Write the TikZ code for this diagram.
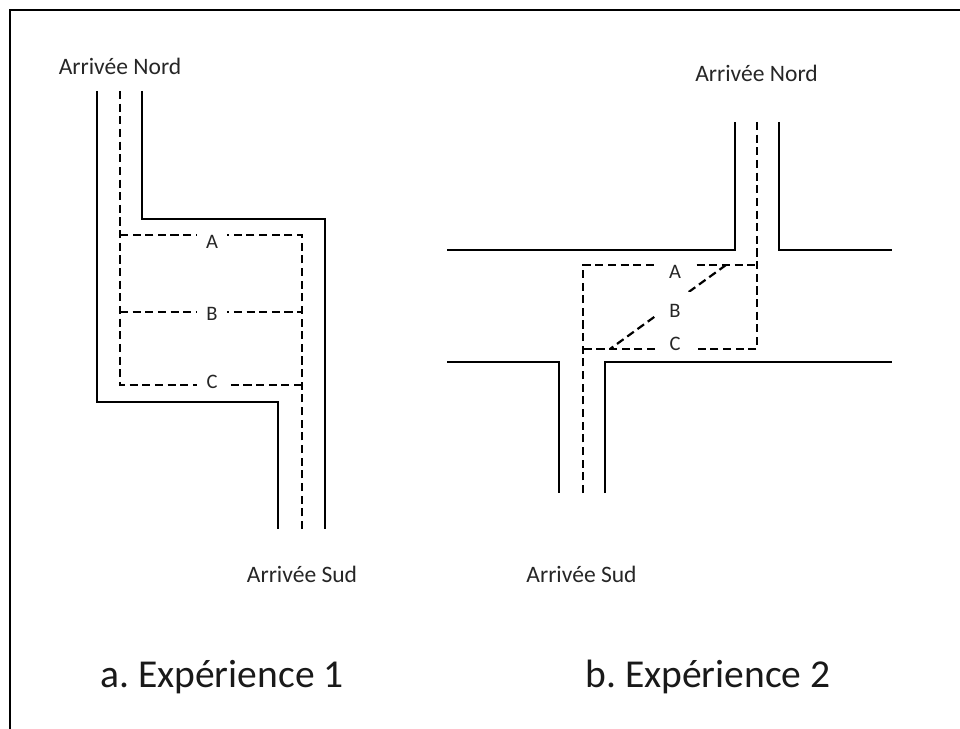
\documentclass[tikz,border=0pt]{standalone}
\usepackage{fontspec}
\setmainfont{Carlito}
\tikzset{
  road/.style={draw=black,line width=1.1pt,line join=miter},
  lane/.style={draw=black,line width=1.25pt,dash pattern=on 4.6pt off 2.6pt},
  arrival/.style={text=black!85,font=\fontsize{13.4}{15}\selectfont,inner sep=0pt},
  zone/.style={fill=white,text=black!85,font=\fontsize{11.7}{13}\selectfont,inner sep=0pt,minimum width=17pt,minimum height=13pt},
  zonewide/.style={zone,minimum width=21pt},
  caption/.style={anchor=base,text=black!90,font=\frenchspacing\fontsize{22.5}{26}\selectfont,inner sep=0pt}
}
\begin{document}
\begin{tikzpicture}[x=.02cm,y=-.02cm]
  \useasboundingbox (0,0) rectangle (960,729);
  % Frame
  \draw[draw=black,line width=1.1pt] (960,10) -- (10,10) -- (10,729);

  \begin{scope}
    % Walls
    \draw[road] (97,91) -- (97,402) -- (278,402) -- (278,529);
    \draw[road] (142,91) -- (142,219) -- (325,219) -- (325,529);
    % Lanes
    \draw[lane] (120,91) -- (120,385) -- (302,385);
    \draw[lane] (302,529) -- (302,235) -- (120,235);
    \draw[lane] (120,312) -- (302,312);
    % Zones
    \node[zone] (za) at (212,242) {A};
    \node[zone] (zb) at (212,314) {B};
    \node[zone] (zc) at (212,382) {C};
    \node[arrival] (na) at (120,66) {Arrivée Nord};
    \node[arrival] (sa) at (302,574) {Arrivée Sud};
    \node[caption] (capa) at (222,687) {a. Expérience 1};
  \end{scope}

  \begin{scope}
    % Walls
    \draw[road] (447,250) -- (735,250) -- (735,122);
    \draw[road] (779,122) -- (779,250) -- (892,250);
    \draw[road] (447,362) -- (559,362) -- (559,493);
    \draw[road] (605,493) -- (605,362) -- (892,362);
    % Lanes
    \draw[lane] (757,122) -- (757,349) -- (583,349);
    \draw[lane] (583,493) -- (583,265) -- (757,265);
    \draw[lane] (726,265) -- (610,349);
    % Zones
    \node[zonewide] (zd) at (675,272) {A};
    \node[zonewide,minimum height=22pt] (ze) at (675,311) {B};
    \node[zonewide] (zf) at (675,344) {C};
    \node[arrival] (nb) at (756.5,73) {Arrivée Nord};
    \node[arrival] (sb) at (581.5,574) {Arrivée Sud};
    \node[caption] (capb) at (708,687) {b. Expérience 2};
  \end{scope}
\end{tikzpicture}
\end{document}
